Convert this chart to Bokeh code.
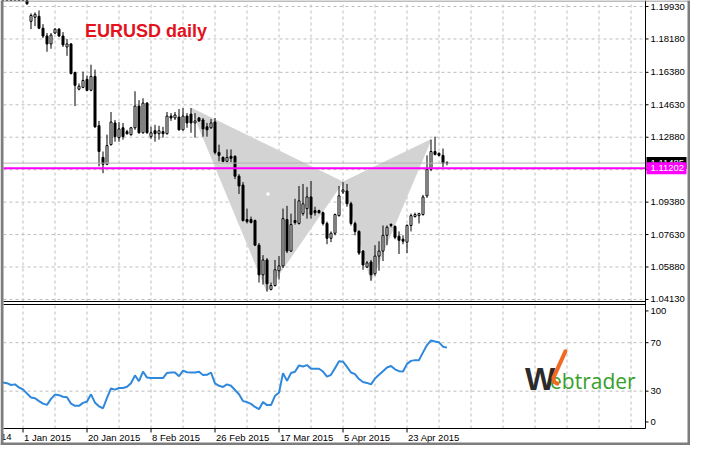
from bokeh.plotting import figure
from bokeh.models import Range1d, ColumnDataSource
from bokeh.core.properties import value
from bokeh.embed import file_html
from bokeh.resources import INLINE

# ---------------- data (daily EURUSD bars, one per trading day incl. Sunday bars) -------------
opens = [1.2190, 1.2225, 1.2218, 1.2155, 1.2160, 1.2100, 1.2090, 1.1913, 1.1935, 1.1940,
         1.1876, 1.1834, 1.1791, 1.1850, 1.1871, 1.1834, 1.1775, 1.1791, 1.1637, 1.1547,
         1.1557, 1.1600, 1.1541, 1.1616, 1.1350, 1.1179, 1.1142, 1.1248, 1.1365, 1.1286,
         1.1339, 1.1318, 1.1302, 1.1339, 1.1456, 1.1312, 1.1472, 1.1291, 1.1323, 1.1307,
         1.1318, 1.1307, 1.1402, 1.1392, 1.1397, 1.1328, 1.1402, 1.1413, 1.1365, 1.1392,
         1.1381, 1.1344, 1.1339, 1.1370, 1.1206, 1.1179, 1.1158, 1.1185, 1.1185, 1.1078,
         1.1030, 1.0844, 1.0844, 1.0839, 1.0706, 1.0546, 1.0626, 1.0467, 1.0488, 1.0568,
         1.0594, 1.0844, 1.0674, 1.0839, 1.0823, 1.0876, 1.0903, 1.0966, 1.0892, 1.0892,
         1.0881, 1.0823, 1.0743, 1.0770, 1.0865, 1.0993, 1.0998, 1.0929, 1.0823, 1.0780,
         1.0674, 1.0588, 1.0615, 1.0552, 1.0647, 1.0674, 1.0759, 1.0818, 1.0807, 1.0754,
         1.0738, 1.0722, 1.0812, 1.0860, 1.0865, 1.0871, 1.0972, 1.1115, 1.1211, 1.1201,
         1.1190, 1.1152]
highs = [1.2240, 1.2232, 1.2245, 1.2185, 1.2170, 1.2110, 1.2095, 1.1956, 1.1961, 1.1972,
         1.1898, 1.1850, 1.1850, 1.1876, 1.1876, 1.1855, 1.1818, 1.1796, 1.1642, 1.1578,
         1.1642, 1.1621, 1.1679, 1.1653, 1.1376, 1.1211, 1.1302, 1.1424, 1.1381, 1.1370,
         1.1365, 1.1328, 1.1344, 1.1536, 1.1488, 1.1498, 1.1477, 1.1344, 1.1355, 1.1350,
         1.1344, 1.1424, 1.1418, 1.1424, 1.1440, 1.1445, 1.1418, 1.1445, 1.1418, 1.1397,
         1.1392, 1.1365, 1.1386, 1.1392, 1.1248, 1.1185, 1.1222, 1.1222, 1.1190, 1.1089,
         1.1046, 1.0903, 1.0860, 1.0844, 1.0717, 1.0652, 1.0636, 1.0504, 1.0626, 1.0647,
         1.0903, 1.0918, 1.0876, 1.0956, 1.1025, 1.1036, 1.1020, 1.1052, 1.0913, 1.0897,
         1.0887, 1.0833, 1.0780, 1.0876, 1.1025, 1.1046, 1.1036, 1.0940, 1.0833, 1.0786,
         1.0679, 1.0620, 1.0626, 1.0706, 1.0727, 1.0812, 1.0812, 1.0823, 1.0812, 1.0780,
         1.0759, 1.0818, 1.0876, 1.0881, 1.0881, 1.0977, 1.1190, 1.1275, 1.1291, 1.1206,
         1.1227, 1.1158]
lows = [1.2180, 1.2210, 1.2140, 1.2140, 1.2100, 1.2055, 1.2002, 1.1871, 1.1887, 1.1871,
        1.1823, 1.1749, 1.1765, 1.1844, 1.1828, 1.1775, 1.1727, 1.1626, 1.1456, 1.1541,
        1.1552, 1.1536, 1.1536, 1.1339, 1.1131, 1.1094, 1.1137, 1.1243, 1.1264, 1.1264,
        1.1275, 1.1302, 1.1296, 1.1328, 1.1307, 1.1307, 1.1307, 1.1280, 1.1264, 1.1275,
        1.1286, 1.1302, 1.1376, 1.1381, 1.1323, 1.1323, 1.1339, 1.1312, 1.1286, 1.1370,
        1.1291, 1.1291, 1.1333, 1.1195, 1.1158, 1.1153, 1.1153, 1.1153, 1.1062, 1.0982,
        1.0833, 1.0823, 1.0823, 1.0701, 1.0504, 1.0493, 1.0456, 1.0462, 1.0483, 1.0520,
        1.0583, 1.0663, 1.0669, 1.0817, 1.0817, 1.0865, 1.0849, 1.0849, 1.0865, 1.0876,
        1.0812, 1.0711, 1.0722, 1.0759, 1.0860, 1.0982, 1.0913, 1.0812, 1.0759, 1.0653,
        1.0573, 1.0583, 1.0514, 1.0541, 1.0568, 1.0620, 1.0706, 1.0802, 1.0738, 1.0658,
        1.0711, 1.0663, 1.0780, 1.0855, 1.0823, 1.0865, 1.0961, 1.1105, 1.1190, 1.1185,
        1.1126, 1.1137]
closes = [1.2225, 1.2218, 1.2155, 1.2160, 1.2100, 1.2095, 1.2008, 1.1945, 1.1951, 1.1876,
          1.1834, 1.1791, 1.1839, 1.1871, 1.1834, 1.1786, 1.1791, 1.1632, 1.1568, 1.1563,
          1.1594, 1.1541, 1.1616, 1.1344, 1.1211, 1.1142, 1.1243, 1.1370, 1.1291, 1.1333,
          1.1291, 1.1307, 1.1339, 1.1456, 1.1312, 1.1472, 1.1312, 1.1312, 1.1307, 1.1323,
          1.1307, 1.1402, 1.1392, 1.1408, 1.1328, 1.1402, 1.1365, 1.1365, 1.1376, 1.1376,
          1.1333, 1.1328, 1.1365, 1.1206, 1.1190, 1.1158, 1.1179, 1.1174, 1.1078, 1.1025,
          1.0839, 1.0833, 1.0828, 1.0706, 1.0546, 1.0626, 1.0498, 1.0488, 1.0573, 1.0594,
          1.0849, 1.0674, 1.0817, 1.0828, 1.0945, 1.0929, 1.0966, 1.0871, 1.0881, 1.0881,
          1.0823, 1.0743, 1.0770, 1.0871, 1.0972, 1.1004, 1.0929, 1.0823, 1.0780, 1.0663,
          1.0599, 1.0610, 1.0546, 1.0647, 1.0674, 1.0759, 1.0802, 1.0812, 1.0748, 1.0732,
          1.0727, 1.0812, 1.0865, 1.0871, 1.0876, 1.0966, 1.1115, 1.1211, 1.1195, 1.1190,
          1.1147, 1.1148]
rsi = [37.2, 36.6, 35.1, 35.6, 33.0, 31.5, 28.0, 24.8, 24.2, 21.8,
       19.7, 18.7, 23.6, 27.2, 26.7, 25.4, 25.0, 19.7, 17.9, 17.9,
       20.3, 21.5, 27.4, 20.5, 17.5, 15.9, 24.5, 32.3, 31.3, 32.6,
       32.6, 33.6, 36.5, 43.0, 38.2, 46.2, 41.2, 40.8, 40.8, 40.8,
       40.8, 45.0, 45.4, 45.4, 42.3, 46.9, 45.6, 45.4, 45.4, 46.0,
       43.3, 43.5, 45.4, 36.4, 34.4, 33.5, 35.6, 34.5, 31.0, 27.5,
       21.8, 21.0, 19.5, 17.0, 15.1, 21.0, 18.5, 18.5, 26.2, 28.7,
       44.9, 38.5, 45.0, 46.0, 51.3, 50.3, 51.5, 48.5, 48.5, 48.5,
       46.2, 42.0, 43.5, 49.0, 54.6, 54.3, 50.0, 45.4, 44.1, 40.0,
       37.5, 36.8, 35.6, 40.5, 43.5, 46.5, 49.5, 50.8, 48.0, 46.5,
       46.2, 52.5, 55.0, 55.6, 55.6, 62.0, 68.0, 71.8, 71.0, 70.3,
       66.7, 65.9]

price_ticks = [1.04130, 1.05880, 1.07630, 1.09380, 1.11130, 1.12880, 1.14630, 1.16380, 1.18180, 1.19930]
hidden_price_tick = 1.11130          # its label sits under the price boxes
date_labels = ["1 Jan 2015", "20 Jan 2015", "8 Feb 2015", "26 Feb 2015",
               "17 Mar 2015", "5 Apr 2015", "23 Apr 2015"]
date_bars = [5, 21, 37, 53, 69, 85, 101]
cut_label = "14"                      # tail of the "14 Dec 2014" label cut by the window edge
grid_bars = [5 + 8 * i for i in range(20)]
rsi_tick_pos = [4.6, 30, 70, 96.2]
rsi_tick_labels = ["0", "30", "70", "100"]
rsi_levels = [30, 70]
level_price = 1.11202
bid_price = 1.11485
pattern_bars = [47, 66, 85, 92, 107]           # X, A, B, C, D
pattern_prices = [1.1445, 1.0456, 1.1046, 1.0514, 1.1275]
marker_bar = [66.25]
marker_price = [1.0982]

# ---------------- layout geometry (one canvas, panels drawn in data space) -------------
FONT = "Liberation Sans"
GRID = "#bdbdbd"
BORDER = "#7d7d7d"
FS = "9.5px"
W, H = 690, 445
PL, PR = 3, 645                 # plot area, canvas px
ppb = 4.0                       # px per bar
X0 = 0.125
X1 = X0 + (PR - PL) / ppb
xl = X0 - PL / ppb
xr = X1 + (W - PR) / ppb

P_TOP, P_BOT = 1, 301
P_LO, P_HI = 1.0402, 1.2020
ppp = (P_HI - P_LO) / (P_BOT - P_TOP)
ys = P_LO - (H - P_BOT) * ppp
ye = P_HI + P_TOP * ppp

R_TOP, R_BOT = 304, 428
R_LO, R_HI = -0.8, 101.5
rpp = (R_HI - R_LO) / (R_BOT - R_TOP)
rs = R_LO - (H - R_BOT) * rpp
re = R_HI + R_TOP * rpp

p = figure(width=W, height=H, x_range=Range1d(xl, xr), y_range=Range1d(ys, ye),
           output_backend="svg", toolbar_location=None, x_axis_location=None, y_axis_location=None,
           min_border=0, min_border_left=0, min_border_right=0, min_border_top=0, min_border_bottom=0,
           background_fill_color="white", border_fill_color="white", outline_line_color=None)
p.grid.visible = False
p.extra_y_ranges = {"rsi": Range1d(rs, re)}

# ---- grids
p.multi_line([[b, b] for b in grid_bars], [[P_LO, P_HI] for _ in grid_bars],
             line_color=GRID, line_dash="3 3", line_width=1)
p.multi_line([[X0, X1] for _ in price_ticks], [[t, t] for t in price_ticks],
             line_color=GRID, line_dash="3 3", line_width=1)
p.multi_line([[b, b] for b in grid_bars], [[R_LO, R_HI] for _ in grid_bars],
             line_color=GRID, line_dash="3 3", line_width=1, y_range_name="rsi")
p.multi_line([[X0, X1] for _ in rsi_levels], [[v, v] for v in rsi_levels],
             line_color=GRID, line_dash="3 3", line_width=1, y_range_name="rsi")

# ---- pattern triangles (background objects)
p.patch([pattern_bars[0], pattern_bars[1], pattern_bars[2]],
        [pattern_prices[0], pattern_prices[1], pattern_prices[2]],
        fill_color="#d3d3d3", line_color="#d3d3d3", line_width=1)
p.patch([pattern_bars[2], pattern_bars[3], pattern_bars[4]],
        [pattern_prices[2], pattern_prices[3], pattern_prices[4]],
        fill_color="#d3d3d3", line_color="#d3d3d3", line_width=1)
p.scatter(marker_bar, marker_price, marker="square", size=3, fill_color="white", line_color=None)

# ---- candles
bars = list(range(len(closes)))
src = ColumnDataSource(dict(
    x=bars,
    top=[max(o, c) for o, c in zip(opens, closes)],
    bottom=[min(o, c) for o, c in zip(opens, closes)],
    high=highs, low=lows,
    fill=["white" if c > o else "black" for o, c in zip(opens, closes)],
))
p.segment(x0="x", y0="low", x1="x", y1="high", source=src, line_color="black", line_width=1)
p.vbar(x="x", width=0.5, top="top", bottom="bottom", fill_color="fill",
       line_color="black", line_width=1, source=src)

# ---- bid line and horizontal level
p.segment(x0=[X0], y0=[bid_price], x1=[X1], y1=[bid_price], line_color="#b4b4b4", line_width=1)
p.segment(x0=[X0], y0=[level_price], x1=[X1], y1=[level_price], line_color="#ff00ff", line_width=2)

# ---- RSI line
p.line(bars, rsi, line_color="#2f88dc", line_width=2, y_range_name="rsi")

# ---- panel frames and axes
p.segment(x0=[X0], y0=[P_LO], x1=[X1], y1=[P_LO], line_color="black", line_width=1)
p.segment(x0=[X0, X0], y0=[R_HI, R_LO], x1=[X1, X1], y1=[R_HI, R_LO],
          line_color="black", line_width=1, y_range_name="rsi")
p.segment(x0=[X1], y0=[R_LO], x1=[X1], y1=[re], line_color="black", line_width=1, y_range_name="rsi")

tick = 3 / ppb
p.segment(x0=[X1] * len(price_ticks), y0=price_ticks, x1=[X1 + tick] * len(price_ticks), y1=price_ticks,
          line_color="black", line_width=1)
p.segment(x0=[X1] * len(rsi_tick_pos), y0=rsi_tick_pos, x1=[X1 + tick] * len(rsi_tick_pos), y1=rsi_tick_pos,
          line_color="black", line_width=1, y_range_name="rsi")
p.segment(x0=date_bars, y0=[R_LO] * len(date_bars), x1=date_bars, y1=[R_LO - 4 * rpp] * len(date_bars),
          line_color="black", line_width=1, y_range_name="rsi")

lab_x = X1 + 5 / ppb
shown = [t for t in price_ticks if t != hidden_price_tick]
p.text(x=[lab_x] * len(shown), y=shown, text=[f"{t:.5f}" for t in shown],
       text_font=value(FONT), text_font_size=FS, text_color="black",
       text_align="left", text_baseline="middle")
p.text(x=[lab_x] * len(rsi_tick_pos), y=rsi_tick_pos, text=rsi_tick_labels,
       text_font=value(FONT), text_font_size=FS, text_color="black",
       text_align="left", text_baseline="middle", y_range_name="rsi")
p.text(x=[b + 1 / ppb for b in date_bars], y=[R_LO - 8.5 * rpp] * len(date_bars), text=date_labels,
       text_font=value(FONT), text_font_size=FS, text_color="black",
       text_align="left", text_baseline="middle", y_range_name="rsi")
p.text(x=[xl + 11 / ppb], y=[R_LO - 8.5 * rpp], text=[cut_label],
       text_font=value(FONT), text_font_size=FS, text_color="black",
       text_align="right", text_baseline="middle", y_range_name="rsi")

# ---- price boxes on the axis
box_l, box_r = X1 + 1 / ppb, X1 + 41 / ppb
for pr, col in ((bid_price, "black"), (level_price, "#ff00ff")):
    p.quad(left=[box_l], right=[box_r], bottom=[pr - 6 * ppp], top=[pr + 6 * ppp],
           fill_color=col, line_color=None)
    p.text(x=[lab_x], y=[pr], text=[f"{pr:.5f}"], text_font=value(FONT), text_font_size=FS,
           text_color="white", text_align="left", text_baseline="middle")

# ---- title
p.text(x=[20.5], y=[1.1860], text=["EURUSD daily"], text_font=value(FONT), text_font_style="bold",
       text_font_size="18px", text_color="#e3121c", text_align="left", text_baseline="middle")

# ---- Webtrader logo
p.text(x=[130.5], y=[40], text=["W"], text_font=value(FONT), text_font_style="bold",
       text_font_size="32px", text_color="#2b2b2b", text_align="left", text_baseline="alphabetic",
       y_range_name="rsi")
p.text(x=[136.75], y=[38.5], text=["ebtrader"], text_font=value("Open Sans"),
       text_font_size="21px", text_color="#36a02a", text_align="left", text_baseline="alphabetic",
       y_range_name="rsi")
p.line([140.6, 137.6, 137.8, 138.6], [62.8, 41.0, 37.5, 36.2], line_color="#f26a21",
       line_width=4, line_cap="round", line_join="round", y_range_name="rsi")

# ---- window border
p.quad(left=[xl, xr - 3 / ppb, xl, xl], right=[xl + 3 / ppb, xr, xr, xr],
       bottom=[ys, ys, ys, ye - 1 * ppp], top=[ye, ye, ys + 3 * ppp, ye],
       fill_color=BORDER, line_color=None)

open("out.html", "w").write(file_html(p, INLINE))
